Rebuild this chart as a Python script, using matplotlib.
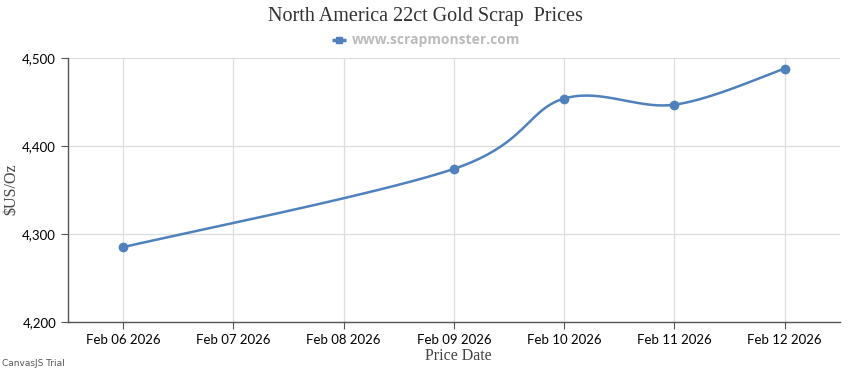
import matplotlib
matplotlib.use('Agg')
import matplotlib.pyplot as plt
import numpy as np

# Chart data
dates = ['Feb 06 2026', 'Feb 07 2026', 'Feb 08 2026', 'Feb 09 2026',
         'Feb 10 2026', 'Feb 11 2026', 'Feb 12 2026']
point_days = [0, 3, 4, 5, 6]
prices = [4285, 4374, 4454, 4447, 4488]
y_ticks = [4200, 4300, 4400, 4500]


def spline(xs, ys, steps=40):
    # Catmull-Rom style bezier like CanvasJS spline
    xs = np.array(xs, dtype=float)
    ys = np.array(ys, dtype=float)
    n = len(xs)
    out_x, out_y = [xs[0]], [ys[0]]
    for i in range(1, n):
        a = i - 1
        a0 = 0 if a == 0 else a - 1
        a1 = a + 1
        b = i
        b0 = b - 1
        b1 = b if b == n - 1 else b + 1
        c1 = (xs[a] + (xs[a1] - xs[a0]) / 6, ys[a] + (ys[a1] - ys[a0]) / 6)
        c2 = (xs[b] - (xs[b1] - xs[b0]) / 6, ys[b] - (ys[b1] - ys[b0]) / 6)
        t = np.linspace(0, 1, steps)[1:]
        bx = ((1 - t) ** 3 * xs[a] + 3 * (1 - t) ** 2 * t * c1[0]
              + 3 * (1 - t) * t ** 2 * c2[0] + t ** 3 * xs[b])
        by = ((1 - t) ** 3 * ys[a] + 3 * (1 - t) ** 2 * t * c1[1]
              + 3 * (1 - t) * t ** 2 * c2[1] + t ** 3 * ys[b])
        out_x.extend(bx)
        out_y.extend(by)
    return out_x, out_y


def main():
    line_col = '#4f81bc'
    fig = plt.figure(figsize=(8.5, 3.7), dpi=100)
    ax = fig.add_axes([0.08, 0.13, 0.908, 0.713])

    sx, sy = spline(point_days, prices)
    ax.plot(sx, sy, color=line_col, lw=1.8, zorder=3)
    ax.plot(point_days, prices, 'o', color=line_col, ms=6, zorder=4)

    ax.set_xlim(-0.5, 6.5)
    ax.set_ylim(4200, 4500)
    ax.set_xticks(range(len(dates)))
    ax.set_xticklabels(dates)
    ax.set_yticks(y_ticks)
    ax.set_yticklabels([f'{v:,}' for v in y_ticks])

    ax.grid(True, color='#dddddd', lw=0.9)
    ax.set_axisbelow(True)
    for s in ['top', 'right']:
        ax.spines[s].set_visible(False)
    for s in ['left', 'bottom']:
        ax.spines[s].set_color('#555555')
        ax.spines[s].set_linewidth(1)
    ax.tick_params(length=5, color='#555555', labelsize=9.5,
                   labelcolor='#000000')
    for lab in ax.get_xticklabels() + ax.get_yticklabels():
        lab.set_family('Lato')

    # axis titles
    fig.text(0.539, 0.038, 'Price Date', ha='center', va='center',
             family='Liberation Serif', fontsize=11.5, color='#444444')
    fig.text(0.013, 0.49, '$US/Oz', ha='center', va='center',
             rotation=90, family='Liberation Serif', fontsize=11.5,
             color='#444444')

    fig.text(0.5, 0.955, 'North America 22ct Gold Scrap  Prices',
             ha='center', va='center', family='Liberation Serif',
             fontsize=14.5, color='#333333')

    # legend
    fig.lines.append(plt.Line2D([0.391, 0.399, 0.407], [0.892] * 3,
                                transform=fig.transFigure, color=line_col,
                                lw=2.5, marker='s', ms=5,
                                markevery=[1], solid_capstyle='butt'))
    fig.text(0.414, 0.892, 'www.scrapmonster.com', ha='left',
             va='center', family='Open Sans', fontsize=10,
             fontweight='bold', color='#bbbbbb')

    fig.text(0.002, 0.018, 'CanvasJS Trial', ha='left', va='center',
             family='DejaVu Sans', fontsize=6.5, color='#555555')

    fig.savefig('out.png', dpi=100)
    plt.close()


if __name__ == "__main__":
    main()
